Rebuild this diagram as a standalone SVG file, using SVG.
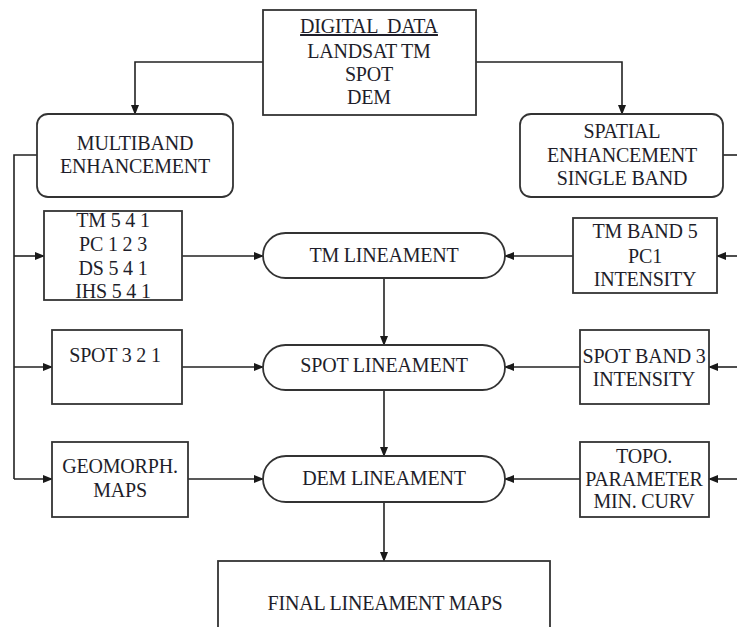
<svg xmlns="http://www.w3.org/2000/svg" width="737" height="627" viewBox="0 0 737 627">
<defs>
<marker id="ah" markerWidth="10" markerHeight="8" refX="9" refY="4" orient="auto" markerUnits="userSpaceOnUse">
<path d="M0,0 L10,4 L0,8 Z" fill="#1a1a1a"/>
</marker>
<style>
.box{fill:#fff;stroke:#333;stroke-width:1.8}
.t{font-family:"Liberation Serif","Times New Roman",serif;font-size:20px;fill:#1e1e2a;text-anchor:middle;letter-spacing:-0.2px}
.c{fill:none;stroke:#222;stroke-width:1.6}
.ca{fill:none;stroke:#222;stroke-width:1.6;marker-end:url(#ah)}
</style>
</defs>
<rect width="737" height="627" fill="#fff"/>
<g id="connectors">
<path class="ca" d="M263,62 H135 V114"/>
<path class="ca" d="M476,62 H622 V114"/>
<path class="c" d="M37,155 H14 V479"/>
<path class="ca" d="M14,256 H44"/>
<path class="ca" d="M14,367 H52"/>
<path class="ca" d="M14,479 H52"/>
<path class="ca" d="M182,256 H263"/>
<path class="ca" d="M182,367 H263"/>
<path class="ca" d="M188,479 H263"/>
<path class="c" d="M723,155 H737"/>
<path class="ca" d="M737,256 H717"/>
<path class="ca" d="M737,367 H709"/>
<path class="ca" d="M737,479 H709"/>
<path class="ca" d="M573,256 H505"/>
<path class="ca" d="M580,367 H505"/>
<path class="ca" d="M580,479 H505"/>
<path class="ca" d="M384,278 V345"/>
<path class="ca" d="M384,390 V456"/>
<path class="ca" d="M384,502 V561"/>
</g>
<g id="digital-data">
<rect class="box" x="263" y="10" width="213" height="105"/>
<text class="t" x="369" y="33" text-decoration="underline" xml:space="preserve">DIGITAL  DATA</text>
<text class="t" x="369" y="58">LANDSAT TM</text>
<text class="t" x="369" y="81">SPOT</text>
<text class="t" x="369" y="104">DEM</text>
</g>
<g id="multiband">
<rect class="box" x="37" y="114" width="196" height="83" rx="11"/>
<text class="t" x="135" y="150">MULTIBAND</text>
<text class="t" x="135" y="173">ENHANCEMENT</text>
</g>
<g id="spatial">
<rect class="box" x="520" y="114" width="203" height="83" rx="11"/>
<text class="t" x="622" y="138">SPATIAL</text>
<text class="t" x="622" y="162">ENHANCEMENT</text>
<text class="t" x="622" y="185">SINGLE BAND</text>
</g>
<g id="tm-composites">
<rect class="box" x="44" y="211" width="138" height="89"/>
<text class="t" x="113" y="227">TM 5 4 1</text>
<text class="t" x="113" y="251">PC 1 2 3</text>
<text class="t" x="113" y="275">DS 5 4 1</text>
<text class="t" x="113" y="298">IHS 5 4 1</text>
</g>
<g id="spot321">
<rect class="box" x="52" y="330" width="130" height="74"/>
<text class="t" x="115" y="362">SPOT 3 2 1</text>
</g>
<g id="geomorph">
<rect class="box" x="52" y="442" width="136" height="75"/>
<text class="t" x="120" y="473">GEOMORPH.</text>
<text class="t" x="120" y="497">MAPS</text>
</g>
<g id="tm-lineament">
<rect class="box" x="263" y="233" width="242" height="45" rx="22.5"/>
<text class="t" x="384" y="262">TM LINEAMENT</text>
</g>
<g id="spot-lineament">
<rect class="box" x="263" y="345" width="242" height="45" rx="22.5"/>
<text class="t" x="384" y="372">SPOT LINEAMENT</text>
</g>
<g id="dem-lineament">
<rect class="box" x="263" y="456" width="242" height="46" rx="23"/>
<text class="t" x="384" y="485">DEM LINEAMENT</text>
</g>
<g id="tm-band5">
<rect class="box" x="573" y="218" width="144" height="75"/>
<text class="t" x="645" y="238">TM BAND 5</text>
<text class="t" x="645" y="263">PC1</text>
<text class="t" x="645" y="286">INTENSITY</text>
</g>
<g id="spot-band3">
<rect class="box" x="580" y="330" width="129" height="74"/>
<text class="t" x="644" y="363">SPOT BAND 3</text>
<text class="t" x="644" y="386">INTENSITY</text>
</g>
<g id="topo">
<rect class="box" x="580" y="442" width="129" height="75"/>
<text class="t" x="644" y="463">TOPO.</text>
<text class="t" x="644" y="486">PARAMETER</text>
<text class="t" x="644" y="508">MIN. CURV</text>
</g>
<g id="final">
<rect class="box" x="218" y="561" width="332" height="80"/>
<text class="t" x="385" y="610">FINAL LINEAMENT MAPS</text>
</g>
</svg>
